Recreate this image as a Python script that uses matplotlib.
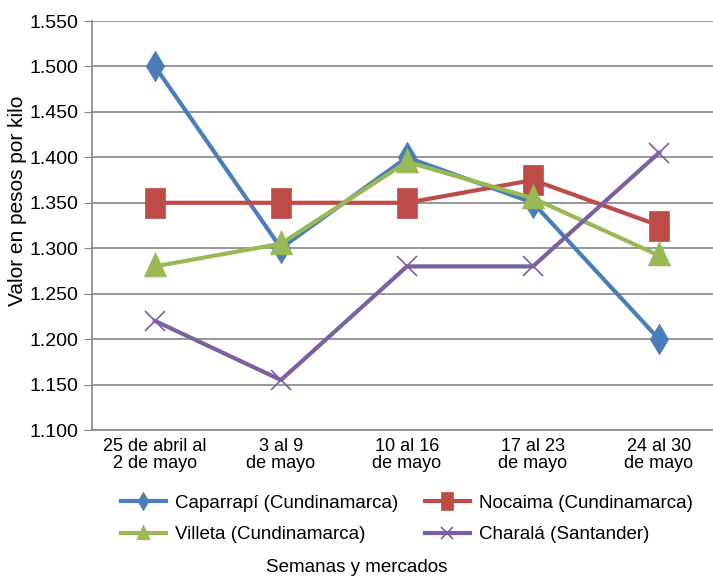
import matplotlib; matplotlib.use("Agg")
import matplotlib.pyplot as plt
from matplotlib.ticker import FuncFormatter

plt.rcParams["font.family"] = ["Liberation Sans", "DejaVu Sans"]

weeks = ["25 de abril al\n2 de mayo", "3 al 9\nde mayo", "10 al 16\nde mayo",
         "17 al 23\nde mayo", "24 al 30\nde mayo"]
caparrapi = [1500, 1300, 1400, 1350, 1200]
nocaima   = [1350, 1350, 1350, 1375, 1325]
villeta   = [1280, 1305, 1395, 1355, 1292]
charala   = [1220, 1155, 1280, 1280, 1405]
y_ticks   = [1100, 1150, 1200, 1250, 1300, 1350, 1400, 1450, 1500, 1550]

# tall markers (the original is slightly stretched vertically)
DIAMOND = [(0, 1), (0.6, 0), (0, -1), (-0.6, 0), (0, 1)]
RECT    = [(-0.65, -1), (0.65, -1), (0.65, 1), (-0.65, 1), (-0.65, -1)]
TRI     = [(0, 1), (0.8, -0.75), (-0.8, -0.75), (0, 1)]

series = [
    ("Caparrapí (Cundinamarca)", caparrapi, "#4A7EBB", DIAMOND, 22),
    ("Nocaima (Cundinamarca)",   nocaima,   "#BE4B48", RECT,    22),
    ("Villeta (Cundinamarca)",   villeta,   "#98B954", TRI,     20),
    ("Charalá (Santander)",      charala,   "#7D60A0", "x",     15),
]

fig = plt.figure(figsize=(7.13, 5.78), dpi=100)
ax = fig.add_axes([92 / 713, 1 - 430 / 578, 630 / 713, 409 / 578])

x = range(len(weeks))
handles = {}
for label, vals, col, mk, ms in series:
    ln, = ax.plot(x, vals, color=col, lw=3, marker=mk, ms=ms, label=label,
                  markeredgewidth=1.2 if mk == "x" else 0.5, markeredgecolor=col)
    handles[label] = ln

ax.set_xlim(-0.5, len(weeks) - 0.5)
ax.set_ylim(1100, 1550)
ax.set_yticks(y_ticks)
ax.yaxis.set_major_formatter(FuncFormatter(lambda v, p: f"{v/1000:.3f}"))
ax.set_xticks(list(x))
ax.set_xticklabels(weeks, fontsize=13, linespacing=1.0)
ax.tick_params(axis="y", labelsize=14, length=6, color="#868686", pad=4)
ax.tick_params(axis="x", length=0, pad=6)
ax.grid(axis="y", color="#868686", lw=1.2)
ax.set_axisbelow(True)
for s in ["top", "right"]:
    ax.spines[s].set_visible(False)
for s in ["left", "bottom"]:
    ax.spines[s].set_color("#868686")
    ax.spines[s].set_linewidth(1.2)

ax.set_ylabel("Valor en pesos por kilo", fontsize=15)
ax.yaxis.set_label_coords(-0.103, 0.56)
fig.text(0.5, 1 - 568 / 578, "Semanas y mercados", fontsize=13.5,
         ha="center", va="center")

# legend fills column-wise: order so rows read Caparrapí/Nocaima, Villeta/Charalá
order = ["Caparrapí (Cundinamarca)", "Villeta (Cundinamarca)",
         "Nocaima (Cundinamarca)", "Charalá (Santander)"]
leg = fig.legend([handles[k] for k in order], order, loc="center",
                 bbox_to_anchor=(407 / 713, 1 - 519 / 578),
                 ncol=2, frameon=False, fontsize=13.5, handlelength=2.4,
                 columnspacing=1.4, labelspacing=0.75, handletextpad=0.5,
                 markerscale=0.6)

fig.savefig("out.png", dpi=100)
